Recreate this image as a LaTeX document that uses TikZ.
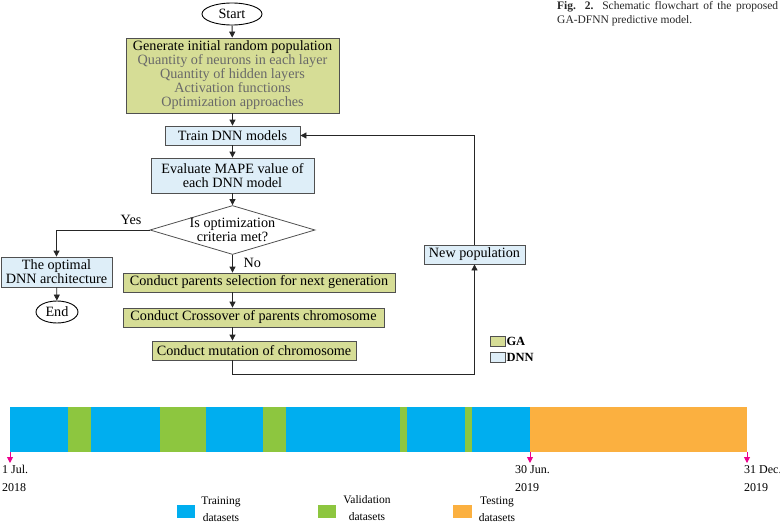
\documentclass[tikz,border=0pt]{standalone}
\usepackage{fontspec}
\setmainfont{Liberation Serif}
\usetikzlibrary{shapes.geometric,arrows.meta}

\definecolor{verdega}{RGB}{214,221,150}
\definecolor{azzurrodnn}{RGB}{222,238,248}
\definecolor{bordo}{RGB}{80,80,80}
\definecolor{grigiotesto}{RGB}{105,105,105}
\definecolor{addestra}{RGB}{0,174,239}
\definecolor{valida}{RGB}{141,198,63}
\definecolor{prova}{RGB}{251,176,64}
\definecolor{rosa}{RGB}{236,0,140}

\begin{document}
\begin{tikzpicture}[x=1pt,y=-1pt,
    font=\fontsize{14.2}{14}\selectfont,
    blocco/.style={draw=bordo,line width=0.8pt,inner sep=0pt,align=center},
    bloccoga/.style={blocco,fill=verdega},
    bloccodnn/.style={blocco,fill=azzurrodnn},
    terminale/.style={ellipse,draw,line width=0.9pt,inner sep=0pt},
    scelta/.style={diamond,draw=bordo,line width=0.8pt,inner sep=0pt,
                   align=center,aspect=3.37},
    arco/.style={line width=0.8pt,draw=black!85},
    freccia/.style={arco,-{Triangle[length=6pt,width=6pt]}},
    campione/.style={draw=bordo,line width=0.6pt,minimum width=15pt,
                     minimum height=10pt,inner sep=0pt},
    datacap/.style={anchor=north west,align=left,inner sep=0pt,
                    font=\fontsize{12}{18}\selectfont},
    legenda/.style={align=center,inner sep=0pt,
                    font=\fontsize{11.5}{17}\selectfont}]

  \useasboundingbox (0,0) rectangle (780,530);

  % ---- didascalia ----------------------------------------------------------
  \node[anchor=north west,inner sep=0pt,text width=221pt,align=justify,
        text=black!85,font=\fontsize{11.5}{14}\selectfont] (didascalia)
        at (557,1) {\textbf{Fig. 2.} Schematic flowchart of the proposed\linebreak
        GA-DFNN predictive model.};

  % ---- blocchi del diagramma di flusso -------------------------------------
  \node[terminale,minimum width=60pt,minimum height=22pt] (start) at (232,14) {Start};
  \node[bloccoga,minimum width=213pt,minimum height=75pt] (init) at (232.5,75.5)
       {Generate initial random population\\
        \color{grigiotesto}Quantity of neurons in each layer\\
        \color{grigiotesto}Quantity of hidden layers\\
        \color{grigiotesto}Activation functions\\
        \color{grigiotesto}Optimization approaches};
  \node[bloccodnn,minimum width=135pt,minimum height=19pt] (train) at (232.5,135.5)
       {Train DNN models};
  \node[bloccodnn,minimum width=163pt,minimum height=35pt] (eval) at (232.5,175.5)
       {Evaluate MAPE value of\\each DNN model};
  \node[scelta,minimum width=155pt,minimum height=46pt] (crit) at (232.5,230)
       {Is optimization\\criteria met?};
  \node[bloccodnn,minimum width=111pt,minimum height=30pt] (opt) at (56.5,272)
       {The optimal\\DNN architecture};
  \node[terminale,minimum width=42pt,minimum height=22pt] (end) at (57,312) {End};
  \node[bloccoga,minimum width=272pt,minimum height=19pt] (parents) at (259,282.5)
       {Conduct parents selection for next generation};
  \node[bloccoga,minimum width=261pt,minimum height=19pt] (cross) at (253.5,317.5)
       {Conduct Crossover of parents chromosome};
  \node[bloccoga,minimum width=204pt,minimum height=19pt] (mut) at (254,350.5)
       {Conduct mutation of chromosome};
  \node[bloccodnn,minimum width=101pt,minimum height=19pt] (newpop) at (474.5,254.5)
       {New population};

  % ---- collegamenti ---------------------------------------------------------
  \draw[freccia] (start) -- (init);
  \draw[freccia] (init) -- (train);
  \draw[freccia] (train) -- (eval);
  \draw[freccia] (eval) -- (crit);
  \draw[freccia] (crit.west) -| (opt.north);
  \draw[freccia] (opt) -- (end);
  \draw[freccia] (crit.south) -- (crit.south |- parents.north);
  \draw[freccia] (parents.south -| crit.south) -- (cross.north -| crit.south);
  \draw[freccia] (cross.south -| crit.south) -- (mut.north -| crit.south);
  \draw[freccia] (mut.south -| crit.south) -- ++(0,14) -| (newpop.south);
  \draw[freccia] (newpop.north) |- (train.east);

  \node[anchor=south east,inner sep=1pt] (si) at ([xshift=-7pt,yshift=4pt]crit.west) {Yes};
  \node[anchor=west,inner sep=1pt] (no) at ([xshift=10pt,yshift=-8pt]crit.south) {No};

  % ---- legenda GA / DNN -----------------------------------------------------
  \node[campione,fill=verdega]    (cga)  at (497.5,341.5) {};
  \node[campione,fill=azzurrodnn] (cdnn) at (497.5,357.5) {};
  \node[anchor=west,inner sep=1pt,font=\fontsize{12.5}{12}\selectfont\bfseries]
       at (cga.east) {GA};
  \node[anchor=west,inner sep=1pt,font=\fontsize{12.5}{12}\selectfont\bfseries]
       at (cdnn.east) {DNN};

  % ---- barra temporale dei dati --------------------------------------------
  \foreach \da/\a/\col in {10/68/addestra, 68/91/valida, 91/160/addestra,
      160/206/valida, 206/263/addestra, 263/286/valida, 286/400/addestra,
      400/407/valida, 407/465/addestra, 465/472/valida, 472/530/addestra,
      530/747/prova}
    \fill[\col] (\da,407) rectangle (\a,452);

  \foreach \x in {10,530,747}
    \draw[rosa,line width=0.9pt,-{Triangle[length=6pt,width=6pt]}]
         (\x,452) -- (\x,463);

  \node[datacap] (inizio) at (2,465)   {1 Jul.\\2018};
  \node[datacap] (meta)   at (515,465) {30 Jun.\\2019};
  \node[datacap] (fine)   at (744,465) {31 Dec.\\2019};

  % ---- legenda dei dataset --------------------------------------------------
  \fill[addestra] (177,505) rectangle (195,518);
  \fill[valida]   (318,505) rectangle (336,518);
  \fill[prova]    (453,505) rectangle (472,518);
  \node[legenda] (ltrain) at (221,509) {Training\\datasets};
  \node[legenda] (lvalid) at (367,508) {Validation\\datasets};
  \node[legenda] (ltest)  at (497,509) {Testing\\datasets};

\end{tikzpicture}
\end{document}
